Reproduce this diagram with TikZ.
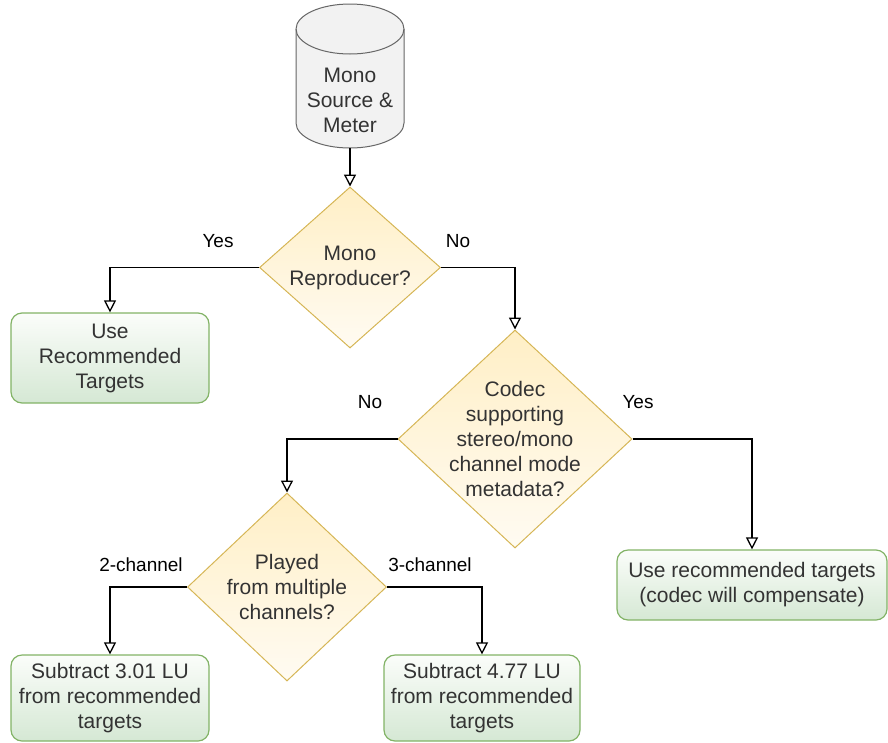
\documentclass[tikz,border=0pt]{standalone}
\usepackage{fontspec}
\setmainfont{Liberation Sans}
\usetikzlibrary{shapes.geometric,arrows.meta}
\definecolor{txt}{HTML}{333333}
\definecolor{cylstroke}{HTML}{666666}
\definecolor{cylfill}{HTML}{F2F2F2}
\definecolor{decstroke}{HTML}{D6B656}
\definecolor{dectop}{HTML}{FFEFC6}
\definecolor{decbot}{HTML}{FFFBF2}
\definecolor{endstroke}{HTML}{82B366}
\definecolor{endtop}{HTML}{FBFDFA}
\definecolor{endbot}{HTML}{D5E8D4}
\tikzset{
  bodytext/.style={font=\fontsize{21}{25}\selectfont, text=txt, align=center},
  decision/.style={bodytext, diamond, draw=decstroke, line width=1pt,
    top color=dectop, bottom color=decbot, inner xsep=-40pt, inner ysep=-20pt},
  endbox/.style={bodytext, rectangle, rounded corners=11pt, draw=endstroke,
    line width=1.2pt, top color=endtop, bottom color=endbot, inner sep=0pt},
  flow/.style={draw=black, line width=1.3pt,
    -{Triangle[open,length=12pt,width=12pt,fill=white]}},
  branch/.style={font=\fontsize{19}{22}\selectfont, text=black, inner sep=0pt},
}
\begin{document}
\begin{tikzpicture}[x=1pt,y=-1pt]
\useasboundingbox (0,0) rectangle (888,742);

% source: upright cylinder
\filldraw[draw=cylstroke, fill=cylfill, line width=1pt]
  (296,29) -- (296,123) arc[start angle=180,end angle=0,x radius=54,y radius=25]
  -- (404,29) arc[start angle=0,end angle=-180,x radius=54,y radius=25] -- cycle;
\draw[cylstroke, line width=1pt] (296,29) arc[start angle=180,end angle=0,x radius=54,y radius=25];
\node[bodytext, inner sep=0pt] (src) at (350,100) {Mono\\Source \&\\Meter};
\coordinate (srcbot) at (350,148);

% decisions
\node[decision, minimum width=181pt, minimum height=161pt] (d1) at (350,267.5) {Mono\\Reproducer?};
\node[decision, minimum width=234pt, minimum height=218pt] (d2) at (515,439) {Codec\\supporting\\stereo/mono\\channel mode\\metadata?};
\node[decision, minimum width=199pt, minimum height=188pt] (d3) at (287,587) {Played\\from multiple\\channels?};

% outcomes
\node[endbox, minimum width=198pt, minimum height=90pt] (b1) at (110,358) {Use\\Recommended\\Targets};
\node[endbox, minimum width=270pt, minimum height=70pt] (b2) at (752,585) {Use recommended targets\\(codec will compensate)};
\node[endbox, minimum width=198pt, minimum height=86pt] (b3) at (110,698) {Subtract 3.01 LU\\from recommended\\targets};
\node[endbox, minimum width=196pt, minimum height=86pt] (b4) at (482,698) {Subtract 4.77 LU\\from recommended\\targets};

% connectors
\draw[flow] (srcbot) -- (d1.north);
\draw[flow] (d1.west) -| (b1.north);
\draw[flow] (d1.east) -| (d2.north);
\draw[flow] (d2.west) -| (d3.north);
\draw[flow] (d2.east) -| (b2.north);
\draw[flow] (d3.west) -| (b3.north);
\draw[flow] (d3.east) -| (b4.north);

% branch labels
\node[branch] (l1) at (218,241) {Yes};
\node[branch] (l2) at (458,241) {No};
\node[branch] (l3) at (370,402) {No};
\node[branch] (l4) at (638,402) {Yes};
\node[branch] (l5) at (141,565) {2-channel};
\node[branch] (l6) at (430,565) {3-channel};
\end{tikzpicture}
\end{document}
